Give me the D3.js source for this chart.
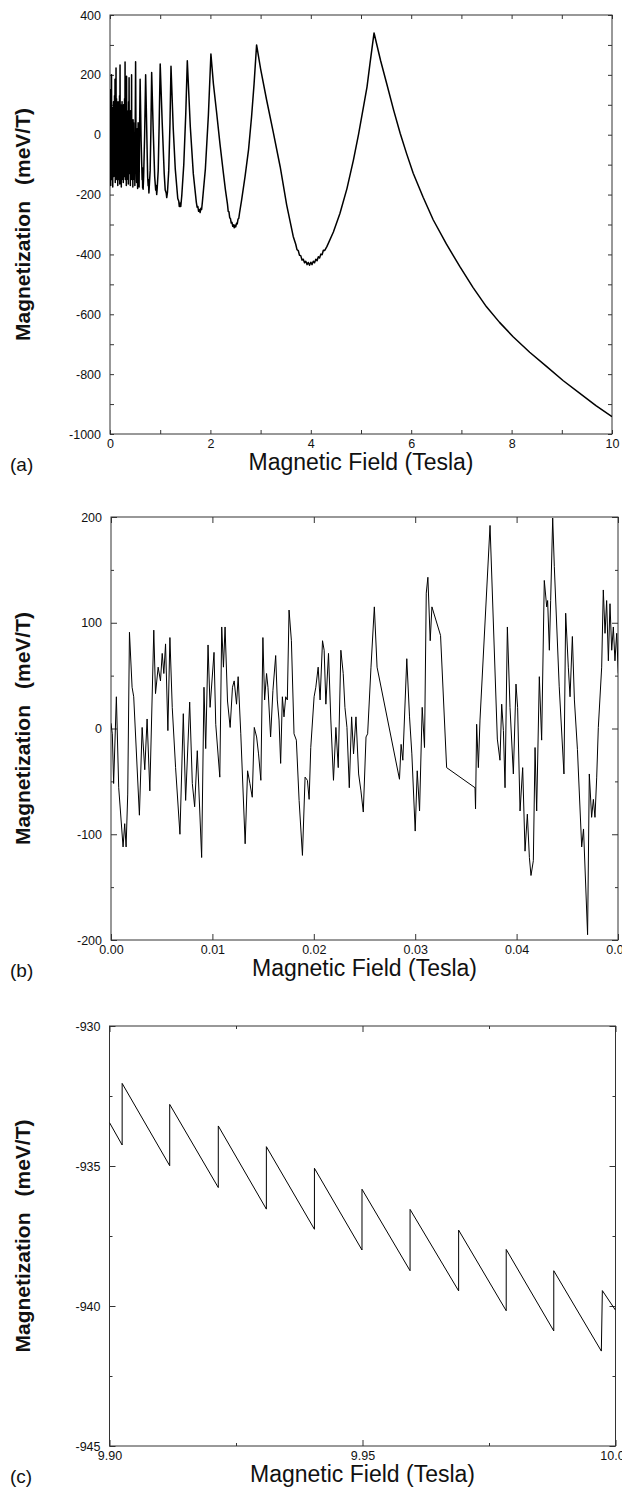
<!DOCTYPE html>
<html>
<head>
<meta charset="utf-8">
<script src="https://cdn.jsdelivr.net/npm/d3@7"></script>
<style>
  body { margin: 0; background: #fff; }
  svg { display: block; font-family: "Liberation Sans", Arial, Helvetica, sans-serif; }
</style>
</head>
<body>
<svg id="chart" width="622" height="1492"></svg>
<script>
// ---- data: [field (T), magnetization (meV/T)] ----

// (a) 0 - 10 T
var curveA = [
  [0.000,100],[0.005,-120],[0.010,150],[0.015,-170],[0.020,120],[0.025,-90],[0.030,200],[0.035,-150],[0.040,80],[0.045,-130],
  [0.050,90],[0.055,-175],[0.060,60],[0.065,-110],[0.070,110],[0.075,-140],[0.080,70],[0.085,-120],[0.090,130],[0.095,-100],
  [0.100,185],[0.105,-160],[0.110,90],[0.115,-130],[0.120,223],[0.125,-150],[0.130,120],[0.135,-110],[0.140,80],[0.145,-140],
  [0.150,60],[0.155,-170],[0.160,110],[0.165,-120],[0.170,100],[0.175,-150],[0.180,70],[0.185,-110],[0.190,130],[0.195,-165],
  [0.200,233],[0.205,-120],[0.210,90],[0.215,-140],[0.220,70],[0.225,-175],[0.230,100],[0.235,-130],[0.240,110],[0.245,-100],
  [0.250,80],[0.255,-150],[0.260,60],[0.265,-160],[0.270,100],[0.275,-110],[0.280,90],[0.285,-140],[0.290,120],[0.295,-130],
  [0.300,243],[0.305,-150],[0.310,70],[0.315,-120],[0.320,50],[0.325,-170],[0.330,195],[0.335,-140],[0.340,80],[0.345,-110],
  [0.350,60],[0.355,-150],[0.360,20],[0.365,-165],[0.370,110],[0.375,-130],[0.380,190],[0.385,-120],[0.390,40],[0.395,-130],
  [0.400,30],[0.405,-170],[0.410,80],[0.415,-110],[0.420,60],[0.425,-140],[0.430,200],[0.435,-150],[0.440,20],[0.445,-120],
  [0.450,10],[0.455,-175],[0.460,50],[0.465,-100],[0.470,40],[0.475,-120],[0.480,0],[0.485,-150],[0.490,-20],[0.495,-170],
  [0.51,244],[0.52,-80],[0.53,-160],[0.54,20],[0.55,-180],[0.56,40],[0.57,-100],[0.58,-175],[0.59,30],[0.60,185],
  [0.62,-20],[0.64,-150],[0.645,-110],[0.65,-178],[0.655,-140],[0.66,-182],[0.67,-140],[0.69,0],[0.71,200],
  [0.73,30],[0.75,-140],[0.76,-170],[0.765,-150],[0.775,-195],[0.785,-165],[0.80,-120],[0.815,20],[0.83,208],
  [0.86,20],[0.89,-140],[0.91,-185],[0.92,-170],[0.93,-200],[0.94,-180],[0.96,-120],[0.98,40],[1.00,236],
  [1.04,40],[1.08,-130],[1.10,-185],[1.12,-195],[1.13,-210],[1.145,-192],[1.17,-120],[1.195,40],[1.215,229],
  [1.26,20],[1.30,-114],[1.35,-213],[1.37,-222],[1.38,-240],[1.40,-228],[1.41,-240],[1.43,-203],[1.47,-99],[1.51,73],[1.54,247],
  [1.60,26],[1.66,-131],[1.72,-226],[1.735,-242],[1.75,-240],[1.765,-256],[1.78,-250],[1.795,-260],[1.81,-246],[1.825,-250],
  [1.84,-225],[1.90,-114],[1.96,66],[2.01,270],
  [2.06,170],[2.12,80],[2.19,-30],[2.26,-130],[2.30,-185],
  [2.340,-232],[2.355,-256],[2.370,-258],[2.385,-278],[2.400,-280],[2.415,-295],[2.430,-293],[2.445,-306],[2.460,-301],
  [2.475,-311],[2.490,-302],[2.505,-308],[2.520,-296],[2.535,-298],[2.550,-282],[2.565,-280],[2.580,-262],
  [2.62,-220],[2.69,-140],[2.76,-50],[2.82,60],[2.87,170],[2.92,300],
  [3.00,220],[3.12,116],[3.25,10],[3.39,-107],[3.52,-235],[3.65,-340],
  [3.700,-366],[3.725,-384],[3.750,-387],[3.775,-403],[3.800,-404],[3.825,-419],[3.850,-416],[3.875,-428],[3.900,-423],
  [3.925,-434],[3.950,-427],[3.975,-436],[4.000,-426],[4.025,-434],[4.050,-423],[4.075,-428],[4.100,-416],[4.125,-421],
  [4.150,-408],[4.175,-412],[4.200,-399],[4.225,-401],[4.250,-386],[4.275,-387],
  [4.32,-374],[4.45,-325],[4.58,-263],[4.72,-180],[4.85,-84],[4.95,0],[5.05,94],[5.12,160],[5.18,239],[5.26,340],
  [5.39,248],[5.51,172],[5.65,82],[5.78,5],[5.91,-64],[6.04,-129],[6.24,-210],[6.44,-285],
  [6.70,-365],[6.97,-441],[7.23,-510],[7.50,-575],[7.76,-627],[8.03,-675],[8.36,-727],
  [8.70,-775],[9.03,-822],[9.36,-864],[9.68,-905],[10.0,-942]
];

// (b) 0 - 0.05 T
var curveB = [
  [0.00000,5],[0.00013,-5],[0.00026,-52],[0.00053,30],[0.00076,-56],[0.00119,-112],[0.00135,-90],
  [0.00149,-112],[0.00165,-62],[0.00182,91],[0.00208,39],[0.00224,30],[0.00280,-82],[0.00307,1],
  [0.00333,-39],[0.00356,9],[0.00383,-59],[0.00422,93],[0.00439,33],[0.00465,58],[0.00488,45],
  [0.00505,71],[0.00521,52],[0.00538,80],[0.00561,-2],[0.00581,86],[0.00604,20],[0.00637,-37],
  [0.00680,-100],[0.00713,14],[0.00736,-68],[0.00776,25],[0.00802,-52],[0.00825,-74],[0.00851,-21],
  [0.00894,-122],[0.00917,39],[0.00934,-19],[0.00957,79],[0.00977,20],[0.01016,72],[0.01033,4],
  [0.01073,-46],[0.01092,96],[0.01109,58],[0.01125,96],[0.01149,26],[0.01175,1],[0.01198,39],
  [0.01215,45],[0.01238,23],[0.01254,49],[0.01280,-5],[0.01323,-109],[0.01347,-40],[0.01370,-52],
  [0.01393,-65],[0.01413,1],[0.01436,-8],[0.01455,-24],[0.01478,-49],[0.01498,86],
  [0.01515,27],[0.01534,52],[0.01548,39],[0.01574,-8],[0.01597,36],[0.01624,69],[0.01640,27],
  [0.01657,8],[0.01673,-33],[0.01690,30],[0.01706,11],[0.01723,30],[0.01739,27],[0.01756,112],
  [0.01779,83],[0.01805,-5],[0.01828,-11],[0.01855,-68],[0.01888,-120],[0.01914,-46],[0.01937,-49],
  [0.01954,-67],[0.01970,-18],[0.02003,30],[0.02020,39],[0.02043,58],[0.02062,27],[0.02086,83],
  [0.02102,74],[0.02119,23],[0.02145,71],[0.02168,8],[0.02194,-49],[0.02218,1],[0.02241,-37],
  [0.02267,74],[0.02290,52],[0.02307,20],[0.02327,1],[0.02350,-56],[0.02373,11],[0.02392,-24],
  [0.02416,11],[0.02442,-43],[0.02465,-59],[0.02488,-79],[0.02515,-8],[0.02531,-5],[0.02564,58],
  [0.02597,115],[0.02624,58],[0.02845,-48],[0.02861,-15],[0.02878,-30],[0.02917,66],[0.02944,11],
  [0.02967,-24],[0.03000,-97],[0.03020,-40],[0.03043,-78],[0.03069,20],[0.03092,-18],[0.03109,128],
  [0.03125,143],[0.03148,83],[0.03165,115],[0.03250,88],
  [0.03310,-37],[0.03590,-56],[0.03595,-76],[0.03606,4],[0.03623,-37],[0.03639,8],[0.03738,192],
  [0.03810,-10],[0.03836,-30],[0.03853,23],[0.03870,-2],[0.03886,-56],[0.03909,96],[0.03935,20],
  [0.03968,-43],[0.03994,42],[0.04010,20],[0.04034,-78],[0.04060,-37],[0.04083,-116],[0.04106,-81],
  [0.04126,-122],[0.04142,-139],[0.04165,-125],[0.04182,-18],[0.04198,-78],[0.04224,49],
  [0.04247,-11],[0.04273,140],[0.04297,115],[0.04306,121],[0.04323,74],[0.04336,121],[0.04356,199],
  [0.04372,153],[0.04420,40],[0.04467,-43],[0.04484,109],[0.04510,58],[0.04527,30],[0.04550,87],
  [0.04570,27],[0.04600,-20],[0.04642,-112],[0.04660,-95],[0.04700,-195],[0.04717,-43],
  [0.04740,-84],[0.04757,-67],[0.04773,-84],[0.04790,-46],[0.04806,1],[0.04839,58],[0.04855,131],
  [0.04872,90],[0.04888,121],[0.04905,64],[0.04921,118],[0.04938,74],[0.04954,96],[0.04970,64],
  [0.04987,90],[0.05003,52]
];

// (c) 9.90 - 10.00 T
var curveC = [
  [9.9000,-933.45],[9.9025,-934.25],[9.9025,-932.05],[9.9119,-934.99],[9.9119,-932.80],
  [9.9215,-935.77],[9.9215,-933.57],[9.9310,-936.54],[9.9310,-934.31],[9.9405,-937.26],
  [9.9405,-935.08],[9.9499,-938.00],[9.9499,-935.83],[9.9594,-938.74],[9.9594,-936.55],
  [9.9690,-939.46],[9.9690,-937.29],[9.9784,-940.17],[9.9784,-937.98],[9.9878,-940.89],
  [9.9878,-938.74],[9.9972,-941.61],[9.9974,-939.45],[10.000,-940.15]
];

// tick values
var xMajorA = [0, 2, 4, 6, 8, 10];
var xMinorA = [1, 3, 5, 7, 9];
var yMajorA = [400, 200, 0, -200, -400, -600, -800, -1000];
var yMinorA = [300, 100, -100, -300, -500, -700, -900];

var xMajorB = [0, 0.01, 0.02, 0.03, 0.04, 0.05];
var yMajorB = [200, 100, 0, -100, -200];
var yMinorB = [150, 50, -50, -150];

var xMajorC = [9.90, 9.95, 10.00];
var xMinorC = [9.925, 9.975];
var yMajorC = [-930, -935, -940, -945];
var yMinorC = [-932.5, -937.5, -942.5];

var svg = d3.select("#chart");

var panels = [
  { name: "a", label: "(a)", data: curveA, left: 110, right: 612, top: 15, bottom: 434,
    xDomain: [0, 10], yDomain: [-1000, 400], xMajor: xMajorA, xMinor: xMinorA,
    yMajor: yMajorA, yMinor: yMinorA, xFmt: function(d) { return String(d); },
    yFmt: function(d) { return String(d); }, lineWidth: 1.5, majorLen: 4, minorLen: 4 },
  { name: "b", label: "(b)", data: curveB, left: 111, right: 618, top: 517, bottom: 940,
    xDomain: [0, 0.05], yDomain: [-200, 200], xMajor: xMajorB, xMinor: [],
    yMajor: yMajorB, yMinor: yMinorB, xFmt: function(d) { return d.toFixed(2); },
    yFmt: function(d) { return String(d); }, lineWidth: 1, majorLen: 6, minorLen: 3 },
  { name: "c", label: "(c)", data: curveC, left: 109.5, right: 615.5, top: 1026, bottom: 1446,
    xDomain: [9.90, 10.00], yDomain: [-945, -930], xMajor: xMajorC, xMinor: xMinorC,
    yMajor: yMajorC, yMinor: yMinorC, xFmt: function(d) { return d.toFixed(2); },
    yFmt: function(d) { return String(d); }, lineWidth: 1, majorLen: 6, minorLen: 3 }
];

function styleAxis(sel) {
  sel.select(".domain").remove();
  sel.selectAll(".tick line").attr("stroke", "#333").attr("stroke-width", 1);
  sel.selectAll(".tick text").attr("fill", "#111")
    .attr("font-size", 12.5)
    .attr("font-family", "'Liberation Sans', Arial, Helvetica, sans-serif");
  sel.attr("font-family", null).attr("font-size", null);
}

function drawPanel(p) {
  var x = d3.scaleLinear().domain(p.xDomain).range([p.left, p.right]);
  var y = d3.scaleLinear().domain(p.yDomain).range([p.bottom, p.top]);
  var g = svg.append("g").attr("class", "panel-" + p.name);

  g.append("clipPath").attr("id", "clip-" + p.name)
    .append("rect")
    .attr("x", p.left).attr("y", p.top)
    .attr("width", p.right - p.left).attr("height", p.bottom - p.top);

  // ticks inward on all four sides, labels only left and bottom
  g.append("g").attr("transform", "translate(0," + p.bottom + ")")
    .call(d3.axisBottom(x).tickValues(p.xMajor).tickSize(-p.majorLen).tickPadding(5).tickFormat(p.xFmt))
    .call(styleAxis);
  g.append("g").attr("transform", "translate(0," + p.bottom + ")")
    .call(d3.axisBottom(x).tickValues(p.xMinor).tickSize(-p.minorLen).tickFormat(""))
    .call(styleAxis);
  g.append("g").attr("transform", "translate(0," + p.top + ")")
    .call(d3.axisTop(x).tickValues(p.xMajor).tickSize(-p.majorLen).tickFormat(""))
    .call(styleAxis);
  g.append("g").attr("transform", "translate(0," + p.top + ")")
    .call(d3.axisTop(x).tickValues(p.xMinor).tickSize(-p.minorLen).tickFormat(""))
    .call(styleAxis);

  g.append("g").attr("transform", "translate(" + p.left + ",0)")
    .call(d3.axisLeft(y).tickValues(p.yMajor).tickSize(-p.majorLen).tickPadding(9).tickFormat(p.yFmt))
    .call(styleAxis);
  g.append("g").attr("transform", "translate(" + p.left + ",0)")
    .call(d3.axisLeft(y).tickValues(p.yMinor).tickSize(-p.minorLen).tickFormat(""))
    .call(styleAxis);
  g.append("g").attr("transform", "translate(" + p.right + ",0)")
    .call(d3.axisRight(y).tickValues(p.yMajor).tickSize(-p.majorLen).tickFormat(""))
    .call(styleAxis);
  g.append("g").attr("transform", "translate(" + p.right + ",0)")
    .call(d3.axisRight(y).tickValues(p.yMinor).tickSize(-p.minorLen).tickFormat(""))
    .call(styleAxis);

  // frame
  g.append("rect")
    .attr("x", p.left).attr("y", p.top)
    .attr("width", p.right - p.left).attr("height", p.bottom - p.top)
    .attr("fill", "none").attr("stroke", "#333").attr("stroke-width", 1);

  // curve
  var line = d3.line()
    .x(function(d) { return x(d[0]); })
    .y(function(d) { return y(d[1]); });

  g.append("path")
    .datum(p.data)
    .attr("clip-path", "url(#clip-" + p.name + ")")
    .attr("d", line)
    .attr("fill", "none")
    .attr("stroke", "#000")
    .attr("stroke-width", p.lineWidth)
    .attr("stroke-linejoin", "round");

  // axis titles
  var midX = (p.left + p.right) / 2;
  var midY = (p.top + p.bottom) / 2;

  g.append("text")
    .attr("x", midX).attr("y", p.bottom + 36)
    .attr("text-anchor", "middle")
    .attr("font-size", 23)
    .attr("fill", "#111")
    .text("Magnetic Field (Tesla)");

  var yt = g.append("text")
    .attr("transform", "translate(30," + midY + ") rotate(-90)")
    .attr("text-anchor", "middle")
    .attr("font-size", 21)
    .attr("font-weight", "bold")
    .attr("fill", "#111");
  yt.append("tspan").text("Magnetization");
  yt.append("tspan").attr("dx", 16).text("(meV/T)");

  g.append("text")
    .attr("x", 10).attr("y", p.bottom + 37)
    .attr("font-size", 19)
    .attr("fill", "#111")
    .text(p.label);
}

panels.forEach(drawPanel);
</script>
</body>
</html>
